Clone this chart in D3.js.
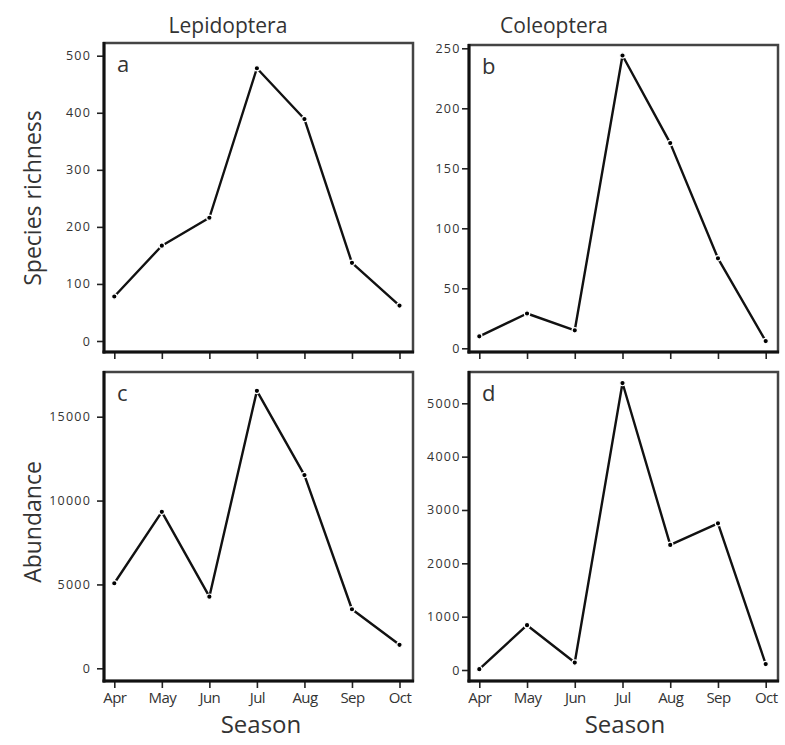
<!DOCTYPE html>
<html>
<head>
<meta charset="utf-8">
<script src="https://cdn.jsdelivr.net/npm/d3@7"></script>
<style>
  body { margin: 0; background: #fff; }
  svg { display: block; }
  text { font-family: "Open Sans", "Noto Sans", sans-serif; fill: #333; }
</style>
</head>
<body>
<div id="chart"></div>
<script>
// months sampled
var months = ['Apr', 'May', 'Jun', 'Jul', 'Aug', 'Sep', 'Oct'];

// species richness
var lepRichness = [78, 167, 216, 478, 389, 137, 62];
var colRichness = [10, 29, 15, 244, 171, 75, 6];

// abundance
var lepAbundance = [5070, 9330, 4270, 16540, 11520, 3520, 1400];
var colAbundance = [15, 840, 140, 5380, 2345, 2750, 112];

var richTicksLep = [0, 100, 200, 300, 400, 500];
var richTicksCol = [0, 50, 100, 150, 200, 250];
var abunTicksLep = [0, 5000, 10000, 15000];
var abunTicksCol = [0, 1000, 2000, 3000, 4000, 5000];

var orderTitles = ['Lepidoptera', 'Coleoptera'];
var panelLetters = ['a', 'b', 'c', 'd'];

var W = 785, H = 745;

var svg = d3.select('#chart').append('svg')
  .attr('width', W)
  .attr('height', H);

// frame box and the pixel span of the data inside it
var panels = [
  { letter: panelLetters[0], values: lepRichness, ticks: richTicksLep, max: 500,
    box: { x: 104, y: 43, w: 309, h: 309 }, xr: [114.3, 399.5], yr: [341, 55.7],
    labelPad: 6, showMonths: false },
  { letter: panelLetters[1], values: colRichness, ticks: richTicksCol, max: 250,
    box: { x: 469, y: 45, w: 309, h: 307 }, xr: [479.3, 765.7], yr: [348.3, 48.3],
    labelPad: 1.5, showMonths: false },
  { letter: panelLetters[2], values: lepAbundance, ticks: abunTicksLep, max: 15000,
    box: { x: 104, y: 372, w: 309, h: 309 }, xr: [114.3, 399.5], yr: [668.3, 416.7],
    labelPad: 6, showMonths: true },
  { letter: panelLetters[3], values: colAbundance, ticks: abunTicksCol, max: 5000,
    box: { x: 469, y: 372, w: 309, h: 309 }, xr: [479.3, 765.7], yr: [670, 403.3],
    labelPad: 1.5, showMonths: true }
];

function drawPanel(p) {
  var g = svg.append('g');
  var b = p.box;

  var x = d3.scalePoint().domain(months).range(p.xr);
  var y = d3.scaleLinear().domain([0, p.max]).range(p.yr);

  // frame (top / right lighter)
  g.append('rect')
    .attr('x', b.x).attr('y', b.y)
    .attr('width', b.w).attr('height', b.h)
    .attr('fill', '#fff')
    .attr('stroke', '#444')
    .attr('stroke-width', 2.5);

  // y axis
  var yAxis = d3.axisLeft(y)
    .tickValues(p.ticks)
    .tickSize(6)
    .tickPadding(p.labelPad)
    .tickFormat(d3.format('d'));
  var ya = g.append('g')
    .attr('transform', 'translate(' + (b.x - 1) + ',0)')
    .call(yAxis);
  ya.select('.domain').remove();
  ya.selectAll('line').attr('stroke', '#222').attr('stroke-width', 1.6);
  ya.selectAll('text')
    .style('font-size', '12.5px')
    .style('letter-spacing', '1.2px')
    .attr('fill', '#2e2e2e');

  // x axis
  var xAxis = d3.axisBottom(x).tickSize(6).tickPadding(4);
  var xa = g.append('g')
    .attr('transform', 'translate(0,' + (b.y + b.h + 1) + ')')
    .call(xAxis);
  xa.select('.domain').remove();
  xa.selectAll('line').attr('stroke', '#222').attr('stroke-width', 1.6);
  if (p.showMonths) {
    xa.selectAll('text')
      .style('font-size', '15px')
      .style('letter-spacing', '-0.6px')
      .attr('fill', '#2e2e2e');
  } else {
    xa.selectAll('text').remove();
  }

  // left and bottom axis lines, darker
  g.append('line')
    .attr('x1', b.x).attr('x2', b.x)
    .attr('y1', b.y - 1).attr('y2', b.y + b.h + 1.5)
    .attr('stroke', '#111').attr('stroke-width', 3);
  g.append('line')
    .attr('x1', b.x - 1.5).attr('x2', b.x + b.w + 1)
    .attr('y1', b.y + b.h).attr('y2', b.y + b.h)
    .attr('stroke', '#111').attr('stroke-width', 3);

  var line = d3.line()
    .x(function(d, i) { return x(months[i]); })
    .y(function(d) { return y(d); });

  g.append('path')
    .datum(p.values)
    .attr('d', line)
    .attr('fill', 'none')
    .attr('stroke', '#111')
    .attr('stroke-width', 2.4)
    .attr('stroke-linejoin', 'round');

  g.selectAll('circle')
    .data(p.values)
    .enter().append('circle')
    .attr('cx', function(d, i) { return x(months[i]); })
    .attr('cy', function(d) { return y(d); })
    .attr('r', 2.7)
    .attr('fill', '#000')
    .attr('stroke', '#fff')
    .attr('stroke-width', 1.2);

  g.append('text')
    .attr('x', b.x + 13)
    .attr('y', b.y + 29)
    .style('font-size', '22px')
    .attr('fill', '#222')
    .text(p.letter);
}

panels.forEach(drawPanel);

// column titles
svg.append('text')
  .attr('x', 228).attr('y', 33)
  .attr('text-anchor', 'middle')
  .style('font-size', '21px')
  .attr('fill', '#222')
  .text(orderTitles[0]);
svg.append('text')
  .attr('x', 554).attr('y', 33)
  .attr('text-anchor', 'middle')
  .style('font-size', '21px')
  .attr('fill', '#222')
  .text(orderTitles[1]);

// row titles
svg.append('text')
  .attr('transform', 'translate(41,198) rotate(-90)')
  .attr('text-anchor', 'middle')
  .style('font-size', '23px')
  .attr('fill', '#222')
  .text('Species richness');
svg.append('text')
  .attr('transform', 'translate(41,522) rotate(-90)')
  .attr('text-anchor', 'middle')
  .style('font-size', '23px')
  .attr('fill', '#222')
  .text('Abundance');

// x titles
svg.append('text')
  .attr('x', 261).attr('y', 733)
  .attr('text-anchor', 'middle')
  .style('font-size', '24px')
  .attr('fill', '#222')
  .text('Season');
svg.append('text')
  .attr('x', 625).attr('y', 733)
  .attr('text-anchor', 'middle')
  .style('font-size', '24px')
  .attr('fill', '#222')
  .text('Season');
</script>
</body>
</html>
